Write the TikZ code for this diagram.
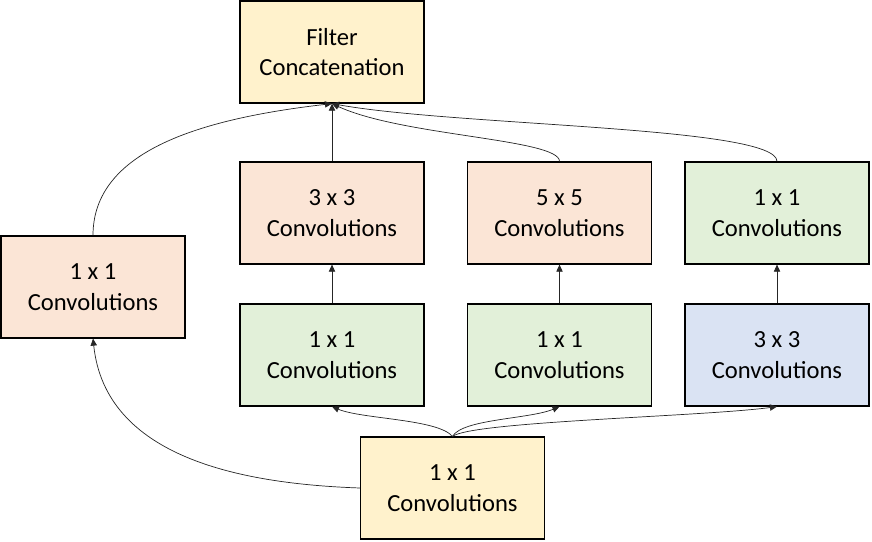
\documentclass[tikz,border=0pt]{standalone}
\usepackage{fontspec}
\setmainfont{Carlito}
\usetikzlibrary{arrows.meta}
\definecolor{peach}{HTML}{FBE5D6}
\definecolor{cream}{HTML}{FFF2CC}
\definecolor{mint}{HTML}{E2F0D9}
\definecolor{sky}{HTML}{DAE3F3}
\begin{document}
\begin{tikzpicture}[
	box/.style = {draw, line width=0.7pt, minimum width=3.68cm, minimum height=2.04cm, align=center, font=\fontsize{14}{17.5}\selectfont},
	link/.style = {line width=0.4pt, draw=black!85, -{Triangle[length=4pt,width=3.6pt]}}]

	\useasboundingbox (0,0) rectangle (17.44,10.82);

	\node[box, fill=cream] (concat) at (6.64,9.78) {Filter\\Concatenation};
	\node[box, fill=peach] (left) at (1.86,5.08) {1 x 1\\Convolutions};
	\node[box, fill=peach] (conv3) at (6.64,6.56) {3 x 3\\Convolutions};
	\node[box, fill=peach] (conv5) at (11.19,6.56) {5 x 5\\Convolutions};
	\node[box, fill=mint] (proj) at (15.54,6.56) {1 x 1\\Convolutions};
	\node[box, fill=mint] (red3) at (6.64,3.72) {1 x 1\\Convolutions};
	\node[box, fill=mint] (red5) at (11.19,3.72) {1 x 1\\Convolutions};
	\node[box, fill=sky] (pool) at (15.54,3.72) {3 x 3\\Convolutions};
	\node[box, fill=cream] (input) at (9.05,1.06) {1 x 1\\Convolutions};

	% from the input
	\draw[link] (input.west) to[out=178, in=-84] (left.south);
	\draw[link] (input.north) .. controls +(-0.3,0.35) and +(0.6,-0.25) .. (red3.south);
	\draw[link] (input.north) .. controls +(0.2,0.35) and +(-0.6,-0.25) .. (red5.south);
	\draw[link] (input.north) .. controls +(0.4,0.3) and +(-1.5,-0.2) .. (pool.south);

	% middle row
	\draw[link] (red3) -- (conv3);
	\draw[link] (red5) -- (conv5);
	\draw[link] (pool) -- (proj);

	% into the concatenation
	\draw[link] (left.north) .. controls +(0,1.7) and +(-2.6,-0.3) .. (concat.south);
	\draw[link] (conv3) -- (concat);
	\draw[link] (conv5.north) .. controls +(0,0.45) and +(1.4,-0.65) .. (concat.south);
	\draw[link] (proj.north) .. controls +(0,0.7) and +(2.5,-0.45) .. (concat.south);

\end{tikzpicture}
\end{document}
